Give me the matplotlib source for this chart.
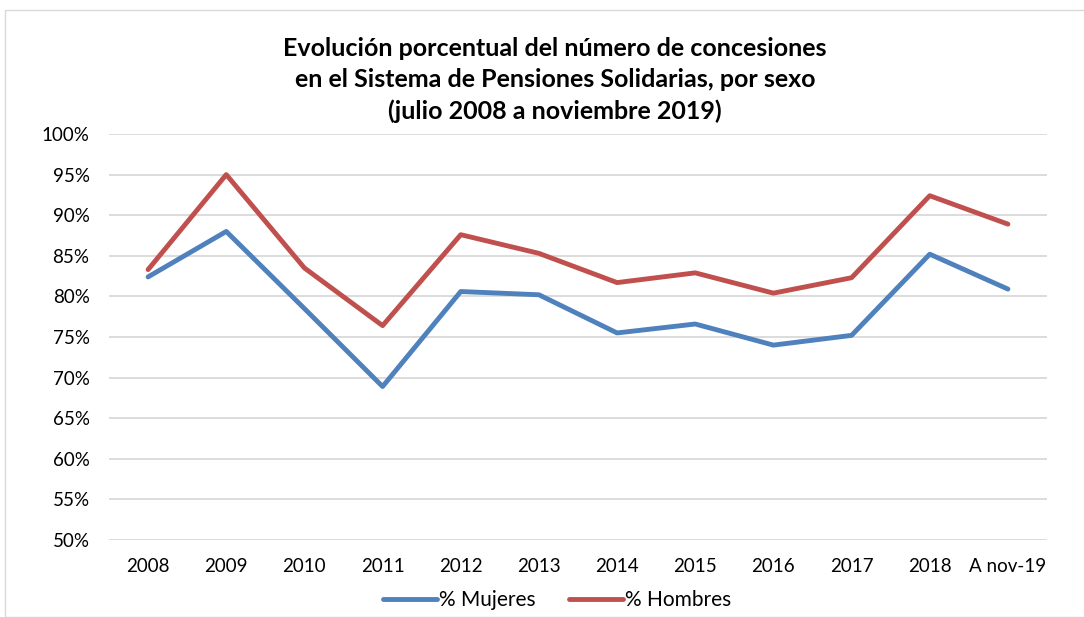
import matplotlib
matplotlib.use('Agg')
import matplotlib.pyplot as plt
from matplotlib.patches import Rectangle
from matplotlib.ticker import PercentFormatter

categorias = ['2008', '2009', '2010', '2011', '2012', '2013', '2014', '2015',
              '2016', '2017', '2018', 'A nov-19']
mujeres = [82.4, 88.0, 78.5, 68.9, 80.6, 80.2, 75.5, 76.6, 74.0, 75.2, 85.2, 80.9]
hombres = [83.3, 95.0, 83.5, 76.4, 87.6, 85.3, 81.7, 82.9, 80.4, 82.3, 92.4, 88.9]

plt.rcParams['font.family'] = ['Lato', 'DejaVu Sans']

fig = plt.figure(figsize=(10.84, 6.17), dpi=100)
# marco del grafico
fig.patches.append(Rectangle((5 / 1084, 0), 1.0, 1 - 10 / 617, transform=fig.transFigure,
                             fill=False, edgecolor='#D9D9D9', linewidth=1))

ax = fig.add_axes([109 / 1084, 1 - 540 / 617, (1047 - 109) / 1084, (540 - 134) / 617])

x = range(len(categorias))
ax.plot(x, mujeres, color='#4F81BD', linewidth=3.5, label='% Mujeres', solid_capstyle='round')
ax.plot(x, hombres, color='#C0504D', linewidth=3.5, label='% Hombres', solid_capstyle='round')

ax.set_xlim(-0.5, len(categorias) - 0.5)
ax.set_ylim(50, 100)
ax.set_yticks(range(50, 101, 5))
ax.yaxis.set_major_formatter(PercentFormatter(decimals=0))
ax.set_xticks(list(x))
ax.set_xticklabels(categorias)
ax.tick_params(length=0, labelsize=13.5, colors='black', pad=13)
ax.tick_params(axis='y', pad=14)
ax.grid(axis='y', color='#D9D9D9', linewidth=1.3)
ax.set_axisbelow(True)
for s in ax.spines.values():
    s.set_visible(False)

fig.text(555 / 1084, 1 - 80 / 617,
         'Evolución porcentual del número de concesiones\n'
         'en el Sistema de Pensiones Solidarias, por sexo\n'
         '(julio 2008 a noviembre 2019)',
         ha='center', va='center', fontsize=18, fontweight='bold', linespacing=1.45)

fig.legend(loc='center', bbox_to_anchor=(557 / 1084, 1 - 600 / 617), ncol=2, frameon=False,
           fontsize=15, handlelength=2.6, columnspacing=1.6, handletextpad=0.1)

fig.savefig('out.png', dpi=100)
